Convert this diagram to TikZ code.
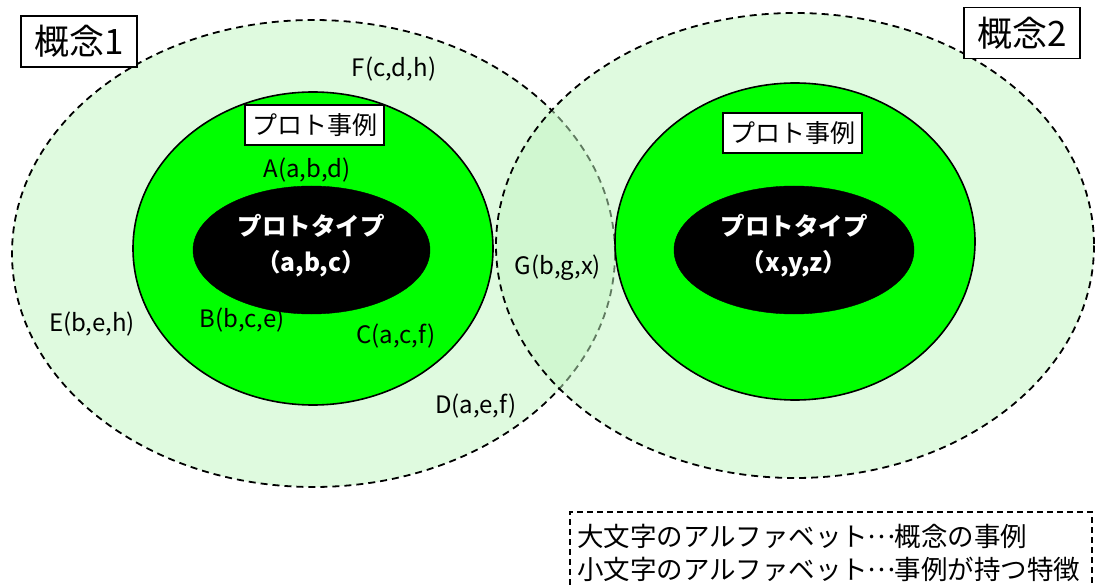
\documentclass[tikz,border=0pt]{standalone}
\usepackage{fontspec}
\setmainfont{Noto Sans CJK JP}
\usetikzlibrary{shapes.geometric}
\definecolor{lgreen}{RGB}{0,255,0}
\definecolor{pale}{RGB}{192,245,192}
\newcommand{\midellip}{\makebox[1em]{\raisebox{0.3em}{…}}}
\begin{document}
\begin{tikzpicture}[x=1pt,y=-1pt,
  outer/.style={draw=black,line width=1.8pt,fill=pale,fill opacity=0.5,dash pattern=on 7pt off 5pt},
  inner/.style={draw=black,line width=1.6pt,fill=lgreen},
  core/.style={draw=black,fill=black},
  lbl/.style={font=\fontsize{24}{26}\selectfont,inner sep=0pt},
  tag/.style={draw=black,fill=white,line width=1.2pt,inner sep=0pt,minimum width=139pt,minimum height=40pt,font=\fontsize{25}{27}\selectfont},
  bigtag/.style={draw=black,fill=white,line width=1.2pt,inner sep=0pt,minimum width=116pt,minimum height=51pt,font=\fontsize{35}{37}\selectfont},
  coretext/.style={text=white,font=\bfseries\fontsize{24.5}{36}\selectfont,align=center},
  legend/.style={anchor=west,inner sep=0pt,font=\fontsize{26.5}{28}\selectfont}]
\useasboundingbox (0,0) rectangle (1097,585);
\clip (0,0) rectangle (1097,585);
% outer concept ellipses
\draw[outer] (313.5,253.5) ellipse [x radius=301.5,y radius=233.5];
\draw[outer] (795,245.5) ellipse [x radius=299,y radius=232.5];
% green example ellipses
\draw[inner] (313,248.5) ellipse [x radius=180,y radius=156.5];
\draw[inner] (795,241.5) ellipse [x radius=180,y radius=158.5];
% black prototype ellipses
\node[core,ellipse,minimum width=237pt,minimum height=128pt] (p1) at (311.5,250) {};
\node[core,ellipse,minimum width=240pt,minimum height=128pt] (p2) at (794,250) {};
\node[coretext] (p1t) at (311,246) {プロトタイプ\\（a,b,c）};
\node[coretext] (p2t) at (794,246) {プロトタイプ\\（x,y,z）};
% tags
\node[tag] (t1) at (314.5,125) {プロト事例};
\node[tag] (t2) at (792.5,133) {プロト事例};
\node[bigtag] (c1) at (79,41.5) {概念1};
\node[bigtag] (c2) at (1022,33) {概念2};
% labels
\node[lbl] (F) at (394,69) {F(c,d,h)};
\node[lbl] (A) at (307,170) {A(a,b,d)};
\node[lbl] (E) at (92,324) {E(b,e,h)};
\node[lbl] (B) at (242,320) {B(b,c,e)};
\node[lbl] (C) at (396,336) {C(a,c,f)};
\node[lbl] (D) at (476,406) {D(a,e,f)};
\node[lbl] (G) at (558,268) {G(b,g,x)};
% legend
\draw[line width=1.4pt,dash pattern=on 6pt off 4pt] (570,595) -- (570,512) -- (1092,512) -- (1092,595);
\node[legend] (L1) at (577,536) {大文字のアルファベット\midellip 概念の事例};
\node[legend] (L2) at (577,569) {小文字のアルファベット\midellip 事例が持つ特徴};
\end{tikzpicture}
\end{document}
